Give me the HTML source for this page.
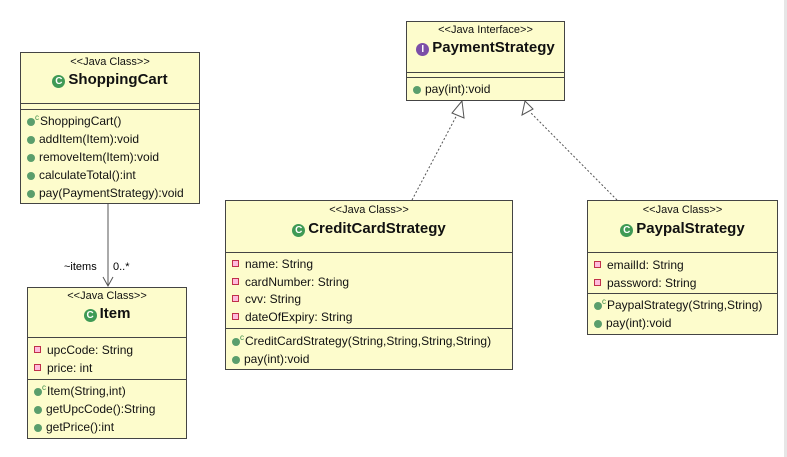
<!DOCTYPE html>
<html><head><meta charset="utf-8"><style>
body{margin:0;width:787px;height:457px;background:#fff;position:relative;overflow:hidden;font-family:"Liberation Sans",sans-serif;color:#111}
.edge{position:absolute;left:784px;top:0;width:3px;height:457px;background:#e6e6e6}
.box{position:absolute;background:#fdfccc;border:1px solid #444;box-sizing:border-box}
.st{position:absolute;left:0;right:0;text-align:center;font-size:11px}
.nm{position:absolute;left:0;right:0;text-align:center;font-size:15px;font-weight:bold}
.ln{position:absolute;left:0;right:0;height:0;border-top:1px solid #444}
.r{position:absolute;left:6px;font-size:12px;white-space:nowrap;line-height:14px}
.g{display:inline-block;width:8px;height:8px;border-radius:50%;background:#5a9e6c;margin-right:4px;vertical-align:-1px}
.c{display:inline-block;width:13px;height:13px;border-radius:50%;background:#3f9a55;color:#fff;font-size:10px;font-weight:bold;line-height:13px;text-align:center;margin-right:3px;vertical-align:0}
.i{background:#7b4ea8}
.p{display:inline-block;width:5px;height:5px;border:1px solid #c0304a;background:#fbd;margin-right:6px;vertical-align:1px}
sup{font-size:8px;color:#3a8a45;margin-left:-4px;margin-right:1px;vertical-align:baseline;position:relative;top:-5px;line-height:0}
</style></head><body>
<div class="edge"></div>
<svg width="787" height="457" style="position:absolute;left:0;top:0">
<line x1="108" y1="203" x2="108" y2="286" stroke="#555" stroke-width="1"/>
<polyline points="103,277 108,286 113,277" fill="none" stroke="#555"/>
<line x1="412" y1="200" x2="459" y2="111" stroke="#555" stroke-dasharray="2,2"/>
<polygon points="462,101 452,113 464,118" fill="#fff" stroke="#555"/>
<line x1="617" y1="200" x2="530" y2="112" stroke="#555" stroke-dasharray="2,2"/>
<polygon points="525,101 522,115 533,109" fill="#fff" stroke="#555"/>
<text x="64" y="270" font-size="11" font-family="Liberation Sans">~items</text>
<text x="113" y="270" font-size="11" font-family="Liberation Sans">0..*</text>
</svg>

<div class="box" style="left:20px;top:52px;width:180px;height:152px">
<div class="st" style="top:3px">&lt;&lt;Java Class&gt;&gt;</div>
<div class="nm" style="top:18px"><span class="c">C</span>ShoppingCart</div>
<div class="ln" style="top:50px"></div><div class="ln" style="top:56px"></div>
<div class="r" style="top:61px"><span class="g"></span><sup>c</sup>ShoppingCart()</div>
<div class="r" style="top:79px"><span class="g"></span>addItem(Item):void</div>
<div class="r" style="top:97px"><span class="g"></span>removeItem(Item):void</div>
<div class="r" style="top:115px"><span class="g"></span>calculateTotal():int</div>
<div class="r" style="top:133px"><span class="g"></span>pay(PaymentStrategy):void</div>
</div>

<div class="box" style="left:27px;top:287px;width:160px;height:152px">
<div class="st" style="top:2px">&lt;&lt;Java Class&gt;&gt;</div>
<div class="nm" style="top:17px"><span class="c">C</span>Item</div>
<div class="ln" style="top:49px"></div>
<div class="r" style="top:55px"><span class="p"></span>upcCode: String</div>
<div class="r" style="top:73px"><span class="p"></span>price: int</div>
<div class="ln" style="top:91px"></div>
<div class="r" style="top:96px"><span class="g"></span><sup>c</sup>Item(String,int)</div>
<div class="r" style="top:114px"><span class="g"></span>getUpcCode():String</div>
<div class="r" style="top:132px"><span class="g"></span>getPrice():int</div>
</div>

<div class="box" style="left:406px;top:21px;width:159px;height:80px">
<div class="st" style="top:2px">&lt;&lt;Java Interface&gt;&gt;</div>
<div class="nm" style="top:17px"><span class="c i">I</span>PaymentStrategy</div>
<div class="ln" style="top:50px"></div><div class="ln" style="top:55px"></div>
<div class="r" style="top:60px"><span class="g"></span>pay(int):void</div>
</div>

<div class="box" style="left:225px;top:200px;width:288px;height:170px">
<div class="st" style="top:3px">&lt;&lt;Java Class&gt;&gt;</div>
<div class="nm" style="top:19px"><span class="c">C</span>CreditCardStrategy</div>
<div class="ln" style="top:51px"></div>
<div class="r" style="top:56px"><span class="p"></span>name: String</div>
<div class="r" style="top:74px"><span class="p"></span>cardNumber: String</div>
<div class="r" style="top:91px"><span class="p"></span>cvv: String</div>
<div class="r" style="top:109px"><span class="p"></span>dateOfExpiry: String</div>
<div class="ln" style="top:127px"></div>
<div class="r" style="top:133px"><span class="g"></span><sup>c</sup>CreditCardStrategy(String,String,String,String)</div>
<div class="r" style="top:151px"><span class="g"></span>pay(int):void</div>
</div>

<div class="box" style="left:587px;top:200px;width:191px;height:135px">
<div class="st" style="top:3px">&lt;&lt;Java Class&gt;&gt;</div>
<div class="nm" style="top:19px"><span class="c">C</span>PaypalStrategy</div>
<div class="ln" style="top:51px"></div>
<div class="r" style="top:57px"><span class="p"></span>emailId: String</div>
<div class="r" style="top:75px"><span class="p"></span>password: String</div>
<div class="ln" style="top:92px"></div>
<div class="r" style="top:97px"><span class="g"></span><sup>c</sup>PaypalStrategy(String,String)</div>
<div class="r" style="top:115px"><span class="g"></span>pay(int):void</div>
</div>
</body></html>
